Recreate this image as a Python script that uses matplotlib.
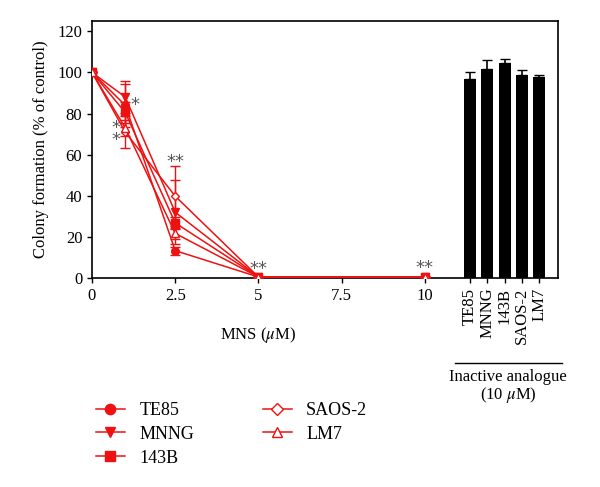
import matplotlib
matplotlib.use("Agg")
import matplotlib.pyplot as plt
from matplotlib.lines import Line2D

plt.rcParams["font.family"] = ["Liberation Serif", "DejaVu Serif"]
plt.rcParams["mathtext.fontset"] = "stix"

# dose-response data (MNS, uM)
doses = [0, 1, 2.5, 5, 10]
series_names = ["TE85", "MNNG", "143B", "SAOS-2", "LM7"]
te85 = [100, 84, 13.3, 0.5, 0.5]
mnng = [100, 88, 32, 0.5, 0.5]
b143 = [100, 80.5, 26.8, 0.5, 0.5]
saos2 = [100, 71, 39.8, 0.5, 0.5]
lm7 = [100, 73, 21.7, 0.5, 0.5]
te85_err = [0, 10.5, 2, 0, 0]
mnng_err = [0, 7.8, 15.6, 0, 0]
b143_err = [0, 5, 3, 0, 0]
saos2_err = [0, 7.6, 14.6, 0, 0]
lm7_err = [0, 4, 2.7, 0, 0]

# inactive analogue bars (10 uM)
bar_labels = ["TE85", "MNNG", "143B", "SAOS-2", "LM7"]
bar_vals = [96.6, 101.5, 104.4, 98.5, 97.7]
bar_errs = [3.5, 4.3, 2.0, 2.5, 1.0]

y_ticks = [0, 20, 40, 60, 80, 100, 120]
dose_ticks = [0, 2.5, 5, 7.5, 10]
dose_tick_labels = ["0", "2.5", "5", "7.5", "10"]

red = "#ee1111"
markers = [("o", red), ("v", red), ("s", red), ("D", "white"), ("^", "white")]
values = [te85, mnng, b143, saos2, lm7]
errors = [te85_err, mnng_err, b143_err, saos2_err, lm7_err]

fig = plt.figure(figsize=(6, 4.87), dpi=100)
ax = fig.add_axes([0.1533, 0.4292, 0.7767, 0.5277])

handles = []
for name, vals, errs, (m, fc) in zip(series_names, values, errors, markers):
    ms = 4.5 if m == "D" else 5.5
    ax.errorbar(doses, vals, yerr=errs, color=red, lw=1.1, marker=m,
                markersize=ms, markerfacecolor=fc, markeredgecolor=red,
                markeredgewidth=1.0, capsize=3.5, elinewidth=1.0, zorder=3)
    handles.append(Line2D([], [], color=red, lw=1.1, marker=m,
                          markersize=ms * 1.35, markerfacecolor=fc,
                          markeredgecolor=red, markeredgewidth=1.0,
                          label=name))

bar_x = [11.35, 11.87, 12.4, 12.92, 13.44]
ax.bar(bar_x, bar_vals, width=0.36, color="black", zorder=2)
ax.errorbar(bar_x, bar_vals, yerr=[[0] * 5, bar_errs], fmt="none",
            ecolor="black", elinewidth=1.2, capsize=3.5, zorder=2)

# significance marks
stars = [(0.72, 70, "*\n*"), (1.3, 84, "*"), (2.5, 56.5, "**"),
         (5, 4.6, "**"), (10, 4.9, "**")]
for sx, sy, s in stars:
    ax.text(sx, sy, s, ha="center", va="center", fontsize=13,
            color="#555555", family="DejaVu Sans", linespacing=0.55)

ax.set_xlim(0, 14)
ax.set_ylim(0, 125)
ax.set_yticks(y_ticks)
ax.set_xticks(dose_ticks + bar_x)
ax.set_xticklabels(dose_tick_labels + bar_labels)
for lbl in ax.get_xticklabels()[len(dose_ticks):]:
    lbl.set_rotation(90)
ax.tick_params(direction="out", length=3.5, width=1, labelsize=12)
for sp in ax.spines.values():
    sp.set_linewidth(1.2)

ax.set_ylabel("Colony formation (% of control)", fontsize=12, labelpad=6)
ax.text(5, -0.22, "MNS ($\\mu$M)", transform=ax.get_xaxis_transform(),
        ha="center", va="center", fontsize=12)

fig.add_artist(Line2D([0.758, 0.937], [0.2546, 0.2546], color="black",
                      lw=1.0, transform=fig.transFigure))
fig.text(0.847, 0.226, "Inactive analogue", ha="center", va="center",
         fontsize=12)
fig.text(0.847, 0.189, "(10 $\\mu$M)", ha="center", va="center", fontsize=12)

fig.legend(handles=handles, loc="upper left", bbox_to_anchor=(0.133, 0.208),
           ncol=2, frameon=False, fontsize=13, handlelength=1.6,
           handletextpad=0.8, columnspacing=3.8, labelspacing=0.38,
           bbox_transform=fig.transFigure)

fig.savefig("out.png", dpi=100)
